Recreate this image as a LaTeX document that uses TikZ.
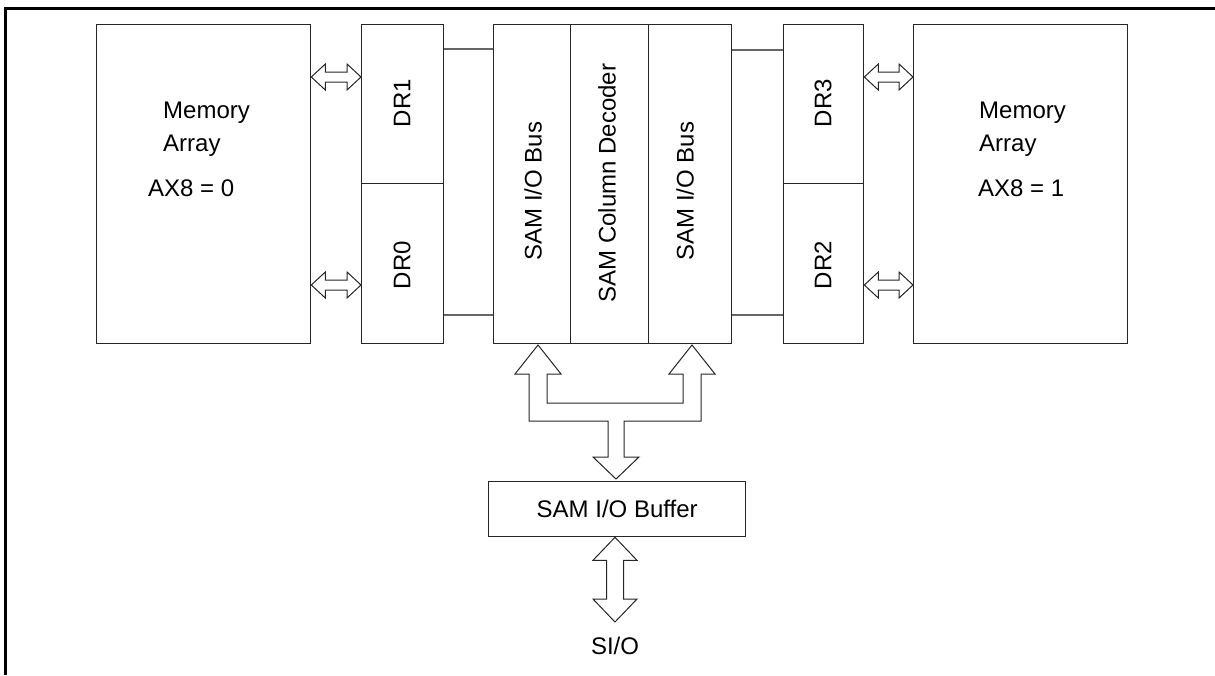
\documentclass[tikz,border=0pt]{standalone}
\usepackage{fontspec}
\setmainfont{Liberation Sans}
\usetikzlibrary{calc}
% horizontal double fat arrow between two named coordinates at the same height
\newcommand{\hfatarrow}[2]{%
  \draw[fat] (#1) -- ($(#1)+(14pt,13pt)$) -- ($(#1)+(14pt,5pt)$) -- ($(#2)+(-14pt,5pt)$)
    -- ($(#2)+(-14pt,13pt)$) -- (#2) -- ($(#2)+(-14pt,-13pt)$) -- ($(#2)+(-14pt,-5pt)$)
    -- ($(#1)+(14pt,-5pt)$) -- ($(#1)+(14pt,-13pt)$) -- cycle;}
% vertical double fat arrow between two named coordinates (top, bottom)
\newcommand{\vfatarrow}[2]{%
  \draw[fat] (#1) -- ($(#1)+(22pt,-23pt)$) -- ($(#1)+(8.5pt,-23pt)$) -- ($(#2)+(8.5pt,23pt)$)
    -- ($(#2)+(22pt,23pt)$) -- (#2) -- ($(#2)+(-22pt,23pt)$) -- ($(#2)+(-8.5pt,23pt)$)
    -- ($(#1)+(-8.5pt,-23pt)$) -- ($(#1)+(-22pt,-23pt)$) -- cycle;}
\begin{document}
\begin{tikzpicture}[x=1pt,y=-1pt,
  box/.style={draw=black!85, line width=1.3pt, inner sep=0pt, anchor=north west},
  conn/.style={draw=black!60, line width=1.1pt},
  fat/.style={draw=black!85, line width=1pt, fill=white, line join=miter},
  lbl/.style={font=\fontsize{24}{28}\selectfont, inner sep=0pt}]
\useasboundingbox (0,0) rectangle (1215,675);
% frame
\draw[line width=3pt] (5,675) -- (5,8) -- (1215,8);
% boxes
\node[box, minimum width=214pt, minimum height=319pt] (mem0) at (96,24) {};
\node[box, minimum width=82pt, minimum height=159pt] (dr1) at (361,24) {};
\node[box, minimum width=82pt, minimum height=160pt] (dr0) at (361,183) {};
\node[box, minimum width=77pt, minimum height=319pt] (bus0) at (493,24) {};
\node[box, minimum width=78pt, minimum height=319pt] (dec) at (570,24) {};
\node[box, minimum width=83pt, minimum height=319pt] (bus1) at (648,24) {};
\node[box, minimum width=80pt, minimum height=159pt] (dr3) at (783,24) {};
\node[box, minimum width=80pt, minimum height=160pt] (dr2) at (783,183) {};
\node[box, minimum width=214pt, minimum height=319pt] (mem1) at (913,24) {};
\node[box, lbl, minimum width=257pt, minimum height=55pt] (buf) at (488,481) {SAM I/O Buffer};
% labels
\node[lbl, anchor=base west] (m0a) at (163,118) {Memory};
\node[lbl, anchor=base west] (m0b) at (163,151) {Array};
\node[lbl, anchor=base west] (m0c) at (148,196) {AX8 = 0};
\node[lbl, anchor=base west] (m1a) at (979,118) {Memory};
\node[lbl, anchor=base west] (m1b) at (979,151) {Array};
\node[lbl, anchor=base west] (m1c) at (978,196) {AX8 = 1};
\node[lbl, rotate=90] (l1) at (402,103) {DR1};
\node[lbl, rotate=90] (l0) at (402,265) {DR0};
\node[lbl, rotate=90] (l3) at (823,103) {DR3};
\node[lbl, rotate=90] (l2) at (823,265) {DR2};
\node[lbl, rotate=90] (lb0) at (533,191) {SAM I/O Bus};
\node[lbl, rotate=90] (ldec) at (607,183) {SAM Column Decoder};
\node[lbl, rotate=90] (lb1) at (685,191) {SAM I/O Bus};
\node[lbl, anchor=base] (sio) at (615,654) {SI/O};
% thin connectors
\draw[conn] (dr1.north east |- 0,49) -- (bus0.north west |- 0,49);
\draw[conn] (dr0.south east |- 0,315) -- (bus0.south west |- 0,315);
\draw[conn] (bus1.north east |- 0,50) -- (dr3.north west |- 0,50);
\draw[conn] (bus1.south east |- 0,315) -- (dr2.south west |- 0,315);
% fat double arrows
\coordinate (a1) at (mem0.east |- 0,77);  \coordinate (b1) at (dr1.west |- 0,77);
\coordinate (a2) at (mem0.east |- 0,285); \coordinate (b2) at (dr0.west |- 0,285);
\coordinate (a3) at (dr3.east |- 0,77);   \coordinate (b3) at (mem1.west |- 0,77);
\coordinate (a4) at (dr2.east |- 0,285);  \coordinate (b4) at (mem1.west |- 0,285);
\hfatarrow{a1}{b1}
\hfatarrow{a2}{b2}
\hfatarrow{a3}{b3}
\hfatarrow{a4}{b4}
% bus tree arrow
\draw[fat] (538,345) -- (561,374) -- (547,374) -- (547,403) -- (683,403) -- (683,374)
  -- (669,374) -- (692,345) -- (715,374) -- (701,374) -- (701,421) -- (624,421)
  -- (624,457) -- (639,457) -- (616,479) -- (593,457) -- (608,457) -- (608,421)
  -- (529,421) -- (529,374) -- (515,374) -- cycle;
% SI/O arrow
\coordinate (s1) at (buf.south -| 615,0);
\coordinate (s2) at (615,622);
\vfatarrow{s1}{s2}
\end{tikzpicture}
\end{document}
